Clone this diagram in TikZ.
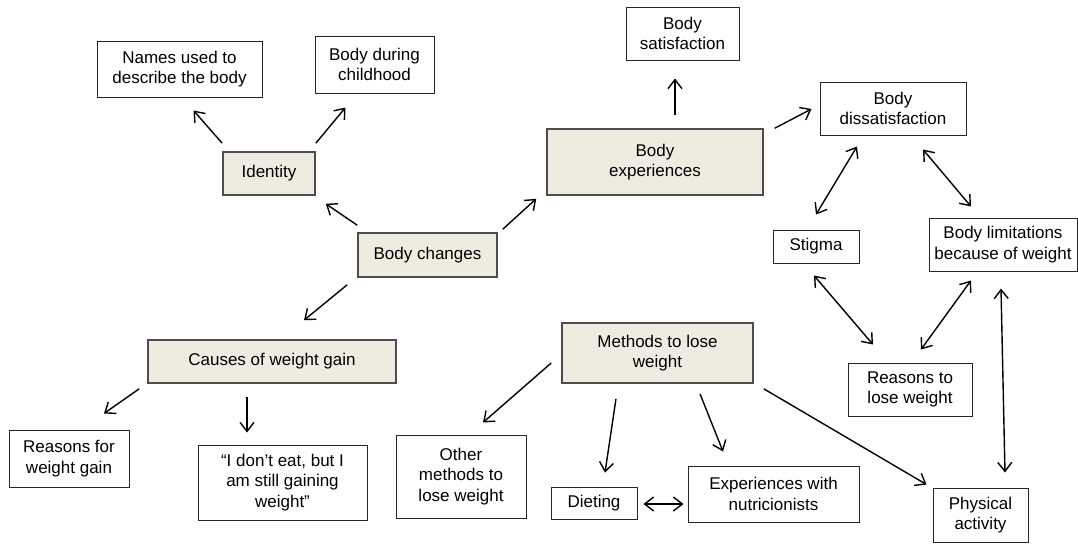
\documentclass[tikz,border=0pt]{standalone}
\usepackage{fontspec}
\setmainfont{Liberation Sans}
\usepackage{tikz}
\usetikzlibrary{arrows.meta,calc}
\definecolor{themefill}{HTML}{EEECE1}
\definecolor{themeedge}{HTML}{4D4D4D}

\begin{document}
\begin{tikzpicture}[
            x=0.5pt, y=-0.5pt,
            every node/.style={font=\fontsize{8.5}{10.35}\selectfont},
            box/.style={draw=black!85, line width=0.5pt, align=center, inner sep=0pt},
            theme/.style={box, fill=themefill, draw=themeedge, line width=0.8pt},
            link/.style={draw=black, line width=0.7pt,
                    -{Straight Barb[length=4.5pt,width=7pt,line width=0.7pt]}},
            both/.style={link,
                    {Straight Barb[length=4.5pt,width=7pt,line width=0.7pt]}-{Straight Barb[length=4.5pt,width=7pt,line width=0.7pt]}}
        ]
        \useasboundingbox (0,0) rectangle (1078,543);

        % =============== themes ===============
        \node[theme, minimum width=69.5pt, minimum height=22pt] (bchg) at (427.5,255) {Body changes};
        \node[theme, minimum width=46pt, minimum height=21.5pt] (ident) at (269,173.5) {Identity};
        \node[theme, minimum width=108pt, minimum height=33pt] (bexp) at (655,162) {Body\\experiences};
        \node[theme, minimum width=124pt, minimum height=21.5pt] (causes) at (272,361.5) {Causes of weight gain};
        \node[theme, minimum width=95.5pt, minimum height=30pt] (methods) at (657.5,353) {Methods to lose\\weight};

        % =============== sub-themes ===============
        \node[box, minimum width=82.5pt, minimum height=28pt] (names) at (179.5,69) {Names used to\\describe the body};
        \node[box, minimum width=59.5pt, minimum height=28.5pt] (child) at (374.5,64.5) {Body during\\childhood};
        \node[box, minimum width=56.5pt, minimum height=26.5pt] (bsat) at (682.5,33.5) {Body\\satisfaction};
        \node[box, minimum width=73pt, minimum height=26.5pt] (bdis) at (893,108.5) {Body\\dissatisfaction};
        \node[box, minimum width=43pt, minimum height=16.5pt] (stigma) at (816,246.5) {Stigma};
        \node[box, minimum width=74pt, minimum height=26.5pt] (blim) at (1003,244.5) {Body limitations\\because of weight};
        \node[box, minimum width=62pt, minimum height=26.5pt] (rlose) at (910,389.5) {Reasons to\\lose weight};
        \node[box, minimum width=47.5pt, minimum height=27pt] (phys) at (980.5,515) {Physical\\activity};
        \node[box, minimum width=60pt, minimum height=28.5pt] (rgain) at (69,458.5) {Reasons for\\weight gain};
        \node[box, minimum width=84.5pt, minimum height=37.5pt] (quote) at (282.5,482.5) {“I don’t eat, but I\\am still gaining\\weight”};
        \node[box, minimum width=65pt, minimum height=41.5pt] (other) at (461,476.5) {Other\\methods to\\lose weight};
        \node[box, minimum width=43pt, minimum height=16pt] (diet) at (594,503) {Dieting};
        \node[box, minimum width=85.5pt, minimum height=28pt] (nutri) at (773.5,494) {Experiences with\\nutricionists};

        % =============== links ===============
        \draw[link] ($(ident.north west)+(0,-8)$) -- ($(names.south)+(14,13)$);
        \draw[link] ($(ident.north east)+(0,-8)$) -- ($(child.south west)+(31,14)$);
        \draw[link] ($(bchg.north west)+(0,-7)$) -- ($(ident.south east)+(10,8)$);
        \draw[link] ($(bchg.north east)+(5,-3)$) -- ($(bexp.south west)+(-10,3)$);
        \draw[link] ($(bexp.north)+(20,-13)$) -- ($(bsat.south)+(-7.5,18)$);
        \draw[link] ($(bexp.north east)+(11,0)$) -- ($(bdis.west)+(-8,0.5)$);
        \draw[link] ($(bchg.south west)+(-10,7)$) -- ($(causes.north)+(32,-19)$);
        \draw[link] ($(causes.south west)+(-8,5)$) -- ($(rgain.north)+(35,-16)$);
        \draw[link] ($(causes.south)+(-25,13)$) -- ($(quote.north)+(-35.5,-12)$);
        \draw[link] ($(methods.west)+(-10,10)$) -- ($(other.north)+(22,-12)$);
        \draw[link] ($(methods.south)+(-41.5,15)$) -- ($(diet.north)+(11,-14)$);
        \draw[link] ($(methods.south)+(42.5,10)$) -- ($(nutri.north)+(-50.5,-14)$);
        \draw[link] ($(methods.south east)+(10,5)$) -- ($(phys.north west)+(-6,-3)$);

        % two-way links
        \draw[both] ($(bdis.south)+(-36,11)$) -- ($(stigma.north)+(0,-15)$);
        \draw[both] ($(bdis.south)+(30,14)$) -- ($(blim.north)+(-32,-11)$);
        \draw[both] ($(stigma.south)+(-2,12)$) -- ($(rlose.north)+(-37,-18)$);
        \draw[both] ($(blim.south)+(-32,9)$) -- ($(rlose.north)+(11,-13)$);
        \draw[both] ($(blim.south)+(-2,17)$) -- ($(phys.north)+(24.5,-15)$);
        \draw[both] ($(diet.east)+(6,1)$) -- ($(nutri.west)+(-4,10)$);

    \end{tikzpicture}
\end{document}
